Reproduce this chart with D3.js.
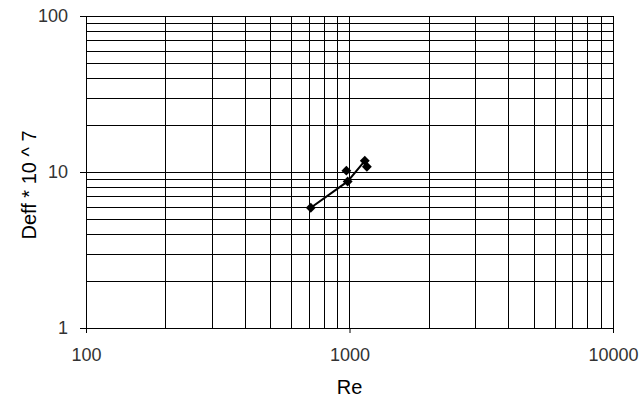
<!DOCTYPE html>
<html>
<head>
<meta charset="utf-8">
<script src="https://cdn.jsdelivr.net/npm/d3@7"></script>
<style>
  body { margin: 0; background: #fff; }
  text { font-family: "Liberation Sans", Arial, sans-serif; }
</style>
</head>
<body>
<div id="container"></div>
<script>
/* DATA */
// Re values of the measured points
const reValues = [713, 973, 984, 1143, 1164];
// Deff * 10^7 of the measured points
const deffValues = [5.9, 10.2, 8.7, 11.8, 10.8];
// points joined by the line
const lineRe = [713, 984, 1143];
const lineDeff = [5.9, 8.7, 11.8];

const xTicks = [100, 1000, 10000];
const yTicks = [1, 10, 100];

/* CONSTANTS */
const W = 644, H = 412;
const margin = { top: 16, right: 31, bottom: 84, left: 86 };
const width = W - margin.left - margin.right;
const height = H - margin.top - margin.bottom;

const svg = d3.select("#container")
  .append("svg")
  .attr("width", W)
  .attr("height", H);

const g = svg.append("g")
  .attr("transform", `translate(${margin.left},${margin.top})`);

// log scales
const xScale = d3.scaleLog().domain([100, 10000]).range([0, width]);
const yScale = d3.scaleLog().domain([1, 100]).range([height, 0]);

// gridlines, major and minor all alike
const xGrid = xScale.ticks().filter(d => d > 100);
const yGrid = yScale.ticks().filter(d => d > 1);

g.selectAll("line.vgrid")
  .data(xGrid)
  .join("line")
  .attr("class", "vgrid")
  .attr("x1", d => Math.round(xScale(d)) + 0.5)
  .attr("x2", d => Math.round(xScale(d)) + 0.5)
  .attr("y1", 0)
  .attr("y2", height)
  .attr("stroke", "#000");

g.selectAll("line.hgrid")
  .data(yGrid)
  .join("line")
  .attr("class", "hgrid")
  .attr("x1", 0)
  .attr("x2", width)
  .attr("y1", d => Math.round(yScale(d)) + 0.5)
  .attr("y2", d => Math.round(yScale(d)) + 0.5)
  .attr("stroke", "#000");

// x axis
const xAxis = g.append("g")
  .attr("transform", `translate(0,${height})`)
  .call(d3.axisBottom(xScale).tickValues(xTicks).tickFormat(d3.format("d")).tickSize(5).tickPadding(15));

// y axis
const yAxis = g.append("g")
  .call(d3.axisLeft(yScale).tickValues(yTicks).tickFormat(d3.format("d")).tickSize(6).tickPadding(12));

[xAxis, yAxis].forEach(a => {
  a.select(".domain").attr("stroke", "#000");
  a.selectAll(".tick line").attr("stroke", "#000");
  a.selectAll(".tick text")
    .attr("fill", "#333")
    .style("font-size", "18px");
});

// line
const line = d3.line()
  .x((d, i) => xScale(lineRe[i]))
  .y(d => yScale(d));

g.append("path")
  .datum(lineDeff)
  .attr("d", line)
  .attr("fill", "none")
  .attr("stroke", "#000")
  .attr("stroke-width", 2);

// markers
g.selectAll("rect.pt")
  .data(deffValues)
  .join("rect")
  .attr("class", "pt")
  .attr("x", (d, i) => xScale(reValues[i]) - 3.5)
  .attr("y", d => yScale(d) - 3.5)
  .attr("width", 7)
  .attr("height", 7)
  .attr("transform", (d, i) => `rotate(45,${xScale(reValues[i])},${yScale(d)})`)
  .attr("fill", "#000");

// axis titles
svg.append("text")
  .attr("x", margin.left + width / 2)
  .attr("y", 394)
  .attr("text-anchor", "middle")
  .style("font-size", "20px")
  .text("Re");

svg.append("text")
  .attr("transform", `translate(36,${185}) rotate(-90)`)
  .attr("text-anchor", "middle")
  .style("font-size", "20px")
  .text("Deff * 10 ^ 7");
</script>
</body>
</html>
